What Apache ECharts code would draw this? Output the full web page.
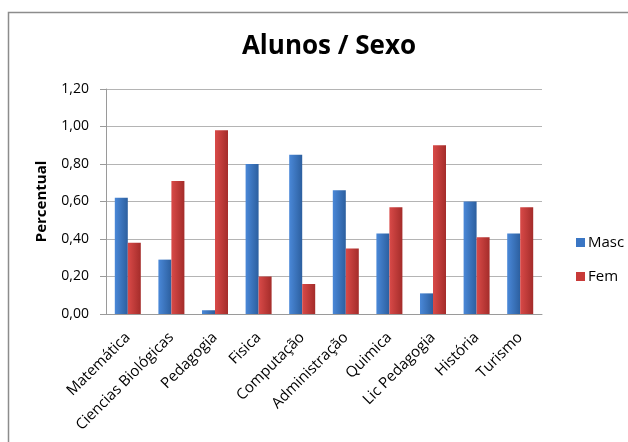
<!DOCTYPE html>
<html>
<head>
<meta charset="utf-8">
<script src="https://cdn.jsdelivr.net/npm/echarts@6/dist/echarts.min.js"></script>
<style>
  html, body { margin: 0; padding: 0; background: #fff; }
  #main { width: 628px; height: 442px; }
</style>
</head>
<body>
<div id="main"></div>
<script>
// dados do gráfico
var cursos = ['Matemática', 'Ciencias Biológicas', 'Pedagogia', 'Fisica', 'Computação',
  'Administração', 'Quimica', 'Lic Pedagogia', 'História', 'Turismo'];
var masc = [0.62, 0.29, 0.02, 0.80, 0.85, 0.66, 0.43, 0.11, 0.60, 0.43];
var fem = [0.38, 0.71, 0.98, 0.20, 0.16, 0.35, 0.57, 0.90, 0.41, 0.57];

var chart = echarts.init(document.getElementById('main'));

function grad(c1, c2) {
  return new echarts.graphic.LinearGradient(0, 0, 1, 0, [
    { offset: 0, color: c1 },
    { offset: 1, color: c2 }
  ]);
}

var fonte = '"Open Sans", "Liberation Sans", sans-serif';

var option = {
  backgroundColor: '#fff',
  animation: false,
  graphic: [{
    type: 'rect',
    shape: { x: 8.5, y: 12.5, width: 640, height: 460 },
    style: { fill: 'none', stroke: '#8c8c8c', lineWidth: 1.5 },
    silent: true
  }],
  title: {
    text: 'Alunos / Sexo',
    left: 324,
    top: 29,
    textAlign: 'center',
    textStyle: { fontFamily: fonte, fontSize: 26, fontWeight: 'bold', color: '#000' }
  },
  legend: {
    orient: 'vertical',
    left: 571,
    top: 230,
    itemWidth: 9,
    itemHeight: 9,
    itemGap: 19,
    itemStyle: { borderWidth: 0 },
    icon: 'rect',
    textStyle: { fontFamily: fonte, fontSize: 15, color: '#000', padding: [0, 0, 0, -2] },
    data: [
      { name: 'Masc', itemStyle: { color: '#3a76c4' } },
      { name: 'Fem', itemStyle: { color: '#c83a38' } }
    ]
  },
  grid: { left: 106, right: 86, top: 89, bottom: 128 },
  xAxis: {
    type: 'category',
    data: cursos,
    axisLine: { lineStyle: { color: '#9a9a9a', width: 1 } },
    axisTick: { show: false },
    axisLabel: {
      rotate: 45,
      interval: 0,
      margin: 21,
      fontFamily: fonte,
      fontSize: 15,
      color: '#000'
    }
  },
  yAxis: {
    type: 'value',
    min: 0,
    max: 1.2,
    interval: 0.2,
    name: 'Percentual',
    nameLocation: 'middle',
    nameGap: 57,
    nameTextStyle: { fontFamily: fonte, fontSize: 15, fontWeight: 'bold', color: '#000' },
    axisLine: { show: true, lineStyle: { color: '#9a9a9a' } },
    axisTick: { show: true, length: 6, lineStyle: { color: '#9a9a9a' } },
    axisLabel: {
      fontFamily: fonte,
      fontSize: 14,
      color: '#000',
      margin: 17,
      formatter: function (v) { return v.toFixed(2).replace('.', ','); }
    },
    splitLine: { lineStyle: { color: '#b4b4b4', width: 1 } }
  },
  series: [
    {
      name: 'Masc',
      type: 'bar',
      data: masc,
      barWidth: 13,
      barGap: '0%',
      itemStyle: { color: grad('#4a88d8', '#2c5f9f') }
    },
    {
      name: 'Fem',
      type: 'bar',
      data: fem,
      barWidth: 13,
      barGap: '0%',
      itemStyle: { color: grad('#d94a48', '#a42c2a') }
    }
  ]
};

chart.setOption(option);
</script>
</body>
</html>
